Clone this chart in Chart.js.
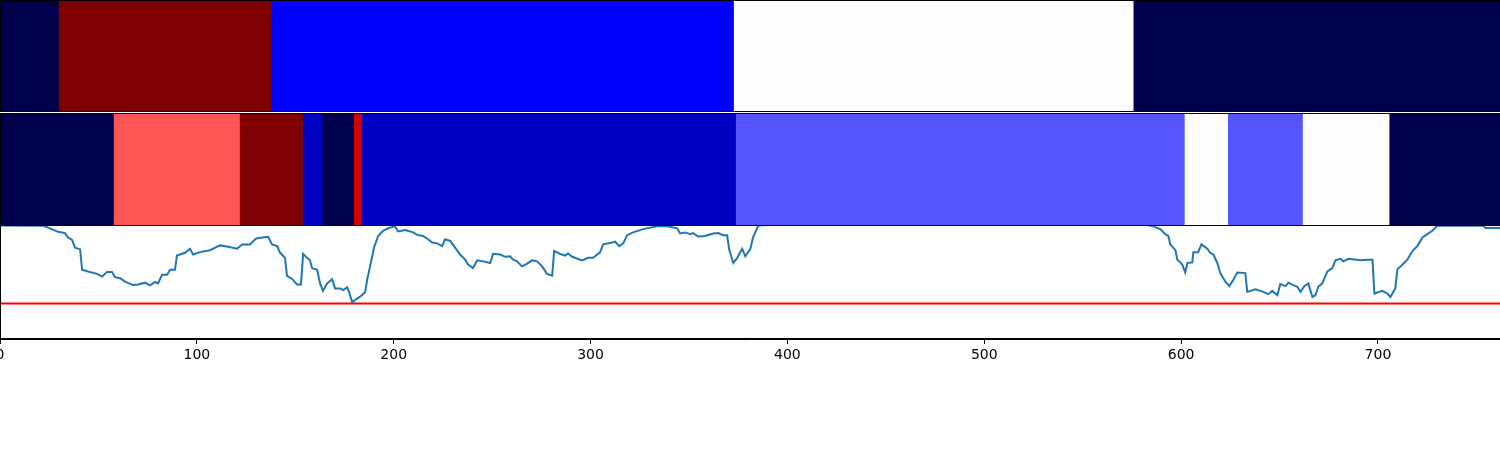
<!DOCTYPE html>
<html>
<head>
<meta charset="utf-8">
<script src="https://cdn.jsdelivr.net/npm/chart.js@4.4.1/dist/chart.umd.min.js"></script>
<style>
    html, body { margin: 0; padding: 0; background: #fff; }
    #wrap { position: relative; width: 1500px; height: 450px; overflow: hidden; }
    .panel { position: absolute; left: 0; width: 1500px; }
</style>
</head>
<body>
<div id="wrap">
    <div class="panel" style="top:0px;height:112px"><canvas id="topChart"></canvas></div>
    <div class="panel" style="top:113px;height:113px"><canvas id="midChart"></canvas></div>
    <div class="panel" style="top:225px;height:154px"><canvas id="lineChart"></canvas></div>
</div>
<script>
const xMax = 762;

// top strip: segment edges and colours (seismic colormap)
const topEdges = [0, 30, 138, 373, 576, 762];
const topColors = ['#00004c', '#7f0000', '#0000ff', '#fffefe', '#00004c'];

// middle strip
const midEdges = [0, 58, 122, 154, 164, 180, 184, 374, 602, 624, 662, 706, 762];
const midColors = ['#00004c', '#ff5555', '#7f0000', '#0000c3', '#00004c', '#d40000',
                   '#0000c3', '#5555ff', '#fffefe', '#5555ff', '#fffefe', '#00004c'];

// bottom line plot
const lineX = [0, 21.8, 25.4, 29.5, 33.0, 34.6, 36.6, 38.1, 40.7, 41.7, 44.7, 49.3, 51.8, 54.4, 56.9, 58.4,
    61.0, 63.5, 67.6, 70.1, 73.7, 76.2, 78.8, 80.3, 82.3, 84.9, 86.4, 88.9, 89.9, 94.0, 96.5, 98.1,
    101.6, 106.7, 111.8, 115.9, 120.4, 123.0, 127.0, 129.6, 130.6, 136.2, 138.2, 140.8, 142.3, 144.8,
    145.8, 148.4, 150.9, 152.9, 154.0, 156.0, 157.5, 158.5, 161.1, 162.6, 164.1, 166.2, 168.7, 170.2,
    172.8, 174.3, 176.3, 177.3, 178.9, 181.4, 183.9, 185.5, 186.5, 188.0, 190.0, 192.1, 194.6, 197.2,
    200.7, 202.2, 205.8, 209.9, 211.9, 214.9, 217.5, 219.5, 222.1, 224.6, 226.1, 228.7, 231.2, 233.7,
    236.3, 237.8, 240.3, 242.4, 245.4, 249.0, 250.5, 254.1, 256.6, 259.1, 260.7, 262.7, 265.2, 267.8,
    270.3, 272.9, 275.4, 277.9, 280.5, 281.5, 284.6, 287.1, 288.6, 290.7, 295.7, 298.8, 301.3, 304.9,
    306.4, 311.0, 312.5, 314.5, 316.6, 318.6, 321.6, 326.7, 333.8, 338.9, 344.0, 345.5, 348.1, 350.6,
    352.1, 354.7, 358.2, 362.3, 364.8, 367.4, 369.4, 370.4, 372.5, 374.5, 377.0, 378.6, 381.1, 382.6,
    385.2, 387.2, 392.0, 400.0, 575.0, 582.8, 585.9, 589.4, 592.0, 593.5, 594.5, 597.1, 598.1, 600.6,
    602.1, 603.2, 605.7, 606.2, 608.7, 610.3, 613.3, 614.8, 616.4, 618.4, 619.9, 622.5, 624.5, 626.5,
    628.5, 632.6, 633.6, 637.7, 641.8, 644.3, 646.3, 648.9, 650.4, 653.0, 654.5, 657.0, 659.1, 660.6,
    662.6, 664.6, 666.7, 668.2, 669.7, 671.7, 674.3, 676.8, 678.4, 680.9, 682.4, 685.0, 691.1, 695.1,
    697.2, 698.2, 702.2, 704.8, 706.3, 708.8, 709.9, 712.4, 714.9, 717.5, 720.0, 722.6, 725.1, 727.6,
    730.2, 753.6, 754.6, 762];
const lineY = [0.996, 0.994, 0.971, 0.940, 0.929, 0.890, 0.869, 0.801, 0.786, 0.607, 0.592, 0.571, 0.547, 0.587, 0.587, 0.542,
    0.533, 0.503, 0.473, 0.479, 0.494, 0.471, 0.500, 0.488, 0.563, 0.563, 0.607, 0.607, 0.732, 0.756, 0.792, 0.741,
    0.762, 0.779, 0.821, 0.810, 0.792, 0.830, 0.830, 0.875, 0.884, 0.896, 0.830, 0.815, 0.756, 0.712,
    0.554, 0.527, 0.479, 0.479, 0.747, 0.712, 0.690, 0.622, 0.607, 0.488, 0.422, 0.488, 0.524, 0.444,
    0.444, 0.429, 0.453, 0.413, 0.324, 0.354, 0.384, 0.413, 0.518, 0.637, 0.801, 0.904, 0.949, 0.971,
    0.988, 0.944, 0.955, 0.935, 0.913, 0.904, 0.875, 0.846, 0.839, 0.815, 0.875, 0.860, 0.801, 0.741,
    0.696, 0.652, 0.622, 0.690, 0.681, 0.667, 0.747, 0.741, 0.721, 0.726, 0.696, 0.681, 0.637, 0.661,
    0.690, 0.681, 0.637, 0.571, 0.556, 0.771, 0.747, 0.732, 0.750, 0.721, 0.690, 0.712, 0.712, 0.762,
    0.830, 0.846, 0.854, 0.815, 0.839, 0.911, 0.935, 0.964, 0.988, 0.988, 0.971, 0.926, 0.935, 0.920,
    0.929, 0.899, 0.904, 0.926, 0.929, 0.911, 0.911, 0.786, 0.667, 0.712, 0.792, 0.726, 0.786, 0.893,
    0.994, 0.998, 1.005, 1.03, 1.03, 1.0, 0.988, 0.964, 0.920, 0.904, 0.830, 0.779, 0.696, 0.652,
    0.583, 0.667, 0.672, 0.762, 0.762, 0.830, 0.792, 0.756, 0.741, 0.667, 0.578, 0.503, 0.464, 0.518,
    0.583, 0.578, 0.413, 0.435, 0.413, 0.393, 0.422, 0.384, 0.482, 0.464, 0.494, 0.473, 0.458, 0.413,
    0.464, 0.488, 0.369, 0.384, 0.458, 0.488, 0.592, 0.622, 0.690, 0.703, 0.681, 0.703, 0.690, 0.696,
    0.696, 0.399, 0.422, 0.399, 0.369, 0.444, 0.613, 0.652, 0.696, 0.771, 0.815, 0.890, 0.920, 0.949,
    0.994, 0.994, 0.973, 0.973];
const threshold = 0.3125;

// black box round the plot area, right side sits just outside the canvas
const framePlugin = {
    id: 'frame',
    afterDraw(chart) {
        const a = chart.chartArea;
        const ctx = chart.ctx;
        ctx.save();
        ctx.strokeStyle = '#000';
        ctx.lineWidth = 1;
        ctx.strokeRect(a.left + 0.5, a.top + 0.5, a.right - a.left + 2, a.bottom - a.top - 1);
        ctx.restore();
    }
};

function stripChart(canvasId, edges, colors) {
    const segs = colors.map((c, i) => ({ x: [edges[i], edges[i + 1]], y: 'row' }));
    return new Chart(document.getElementById(canvasId), {
        type: 'bar',
        data: {
            labels: ['row'],
            datasets: [{
                data: segs,
                backgroundColor: colors,
                borderWidth: 0,
                barPercentage: 1,
                categoryPercentage: 1,
                grouped: false
            }]
        },
        options: {
            indexAxis: 'y',
            responsive: true,
            maintainAspectRatio: false,
            animation: false,
            layout: { padding: 0 },
            plugins: { legend: { display: false }, tooltip: { enabled: false } },
            scales: {
                x: { type: 'linear', min: 0, max: xMax, display: false },
                y: { display: false }
            }
        },
        plugins: [framePlugin]
    });
}

stripChart('topChart', topEdges, topColors);
stripChart('midChart', midEdges, midColors);

new Chart(document.getElementById('lineChart'), {
    type: 'line',
    data: {
        datasets: [{
            data: lineX.map((x, i) => ({ x: x, y: lineY[i] })),
            borderColor: '#1f77b4',
            borderWidth: 2,
            pointRadius: 0,
            tension: 0
        }, {
            data: [{ x: 0, y: threshold }, { x: xMax, y: threshold }],
            borderColor: '#ff0000',
            borderWidth: 2,
            pointRadius: 0
        }]
    },
    options: {
        responsive: true,
        maintainAspectRatio: false,
        animation: false,
        layout: { padding: 0 },
        plugins: { legend: { display: false }, tooltip: { enabled: false } },
        scales: {
            x: {
                type: 'linear',
                min: 0,
                max: xMax,
                afterFit(s) { s.height = 40; s.paddingLeft = 0; s.paddingRight = 0; },
                border: { display: true, color: '#000', width: 1 },
                grid: { drawOnChartArea: false, drawTicks: true, tickLength: 5, color: '#000' },
                ticks: {
                    stepSize: 100,
                    includeBounds: false,
                    maxRotation: 0,
                    padding: 3,
                    color: '#000',
                    font: { family: 'DejaVu Sans', size: 14 }
                }
            },
            y: { min: 0, max: 1, display: false }
        }
    },
    plugins: [framePlugin]
});
</script>
</body>
</html>
